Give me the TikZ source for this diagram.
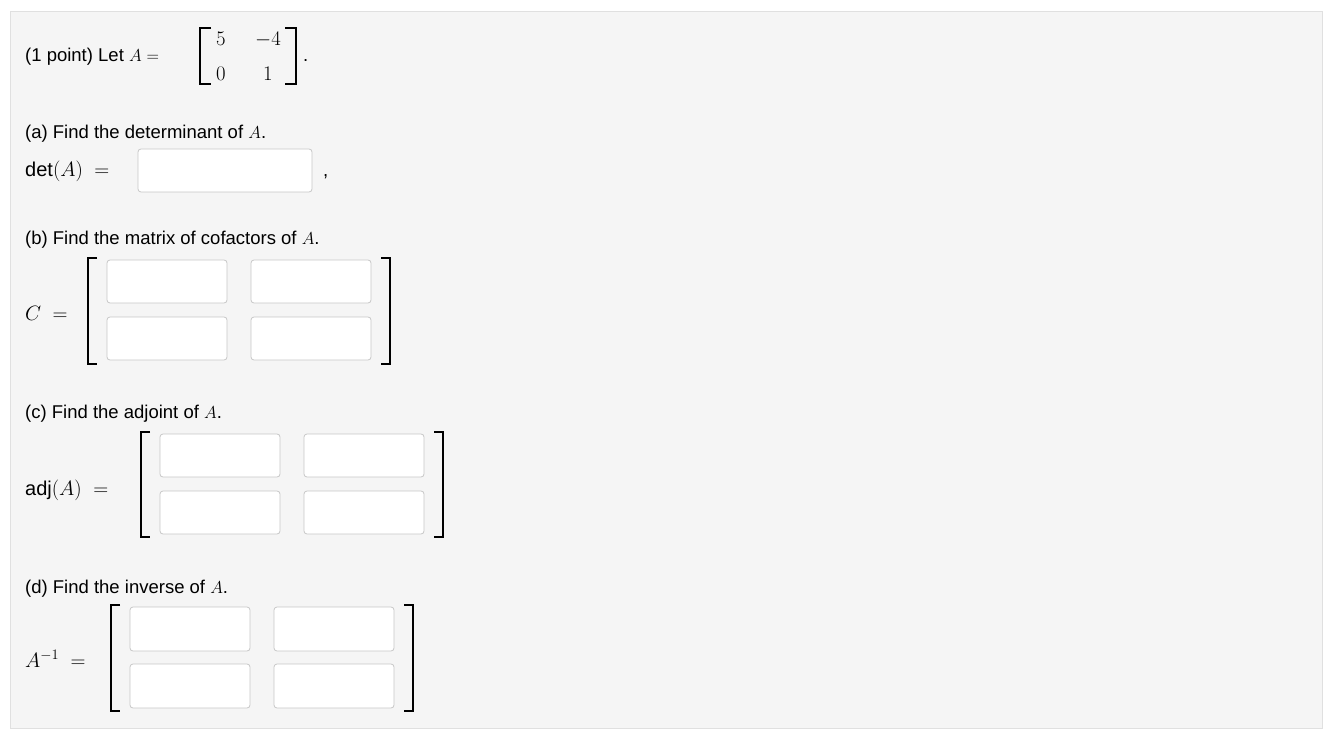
\documentclass[tikz,border=0pt]{standalone}
\usepackage{fontspec}
\setmainfont{Liberation Sans}
\begin{document}
\begin{tikzpicture}[x=1pt,y=-1pt,
  inbox/.style={draw=black!22,fill=white,rounded corners=3pt,line width=0.8pt},
  brk/.style={line width=1.3pt},
  txt/.style={anchor=base west,inner sep=0pt,font=\fontsize{18.5}{20}\selectfont},
  mtx/.style={anchor=base,inner sep=0pt,font=\fontsize{20}{22}\selectfont}]
\useasboundingbox (0,0) rectangle (1323,730);
\fill[white] (0,0) rectangle (1323,730);
\draw[fill=black!4,draw=black!12] (10,11) rectangle (1322,728);
% header
\node[txt] (h) at (25,62) {(1 point) Let $A=$};
\draw[brk] (211,28)--(200,28)--(200,84)--(211,84);
\draw[brk] (285,28)--(296,28)--(296,84)--(285,84);
\node[mtx] (a11) at (221,46) {$5$};
\node[mtx] (a12) at (268,46) {$-4$};
\node[mtx] (a21) at (221,81) {$0$};
\node[mtx] (a22) at (268,81) {$1$};
\node[txt] (hp) at (303,62) {.};
% (a)
\node[txt] (ta) at (25,139) {(a) Find the determinant of $A$.};
\node[mtx,anchor=base west] (da) at (25,177) {$\det(A)\;=$};
\draw[inbox] (138,149) rectangle (312,192);
\node[txt] (comma) at (323,177) {,};
% (b)
\node[txt] (tb) at (25,245) {(b) Find the matrix of cofactors of $A$.};
\node[mtx,anchor=base west] (cb) at (25,320) {$C\;=$};
\draw[brk] (97,258)--(88,258)--(88,364)--(97,364);
\draw[brk] (381,258)--(390,258)--(390,364)--(381,364);
\draw[inbox] (107,260) rectangle (227,303);
\draw[inbox] (251,260) rectangle (371,303);
\draw[inbox] (107,317) rectangle (227,360);
\draw[inbox] (251,317) rectangle (371,360);
% (c)
\node[txt] (tc) at (25,418) {(c) Find the adjoint of $A$.};
\node[mtx,anchor=base west] (cc) at (25,495) {$\mathrm{adj}(A)\;=$};
\draw[brk] (150,432)--(141,432)--(141,537)--(150,537);
\draw[brk] (434,432)--(443,432)--(443,537)--(434,537);
\draw[inbox] (160,434) rectangle (280,477);
\draw[inbox] (304,434) rectangle (424,477);
\draw[inbox] (160,491) rectangle (280,534);
\draw[inbox] (304,491) rectangle (424,534);
% (d)
\node[txt] (td) at (25,593) {(d) Find the inverse of $A$.};
\node[mtx,anchor=base west] (cd) at (25,667) {$A^{-1}\;=$};
\draw[brk] (120,605)--(111,605)--(111,711)--(120,711);
\draw[brk] (404,605)--(413,605)--(413,711)--(404,711);
\draw[inbox] (130,607) rectangle (250,651);
\draw[inbox] (274,607) rectangle (394,651);
\draw[inbox] (130,664) rectangle (250,708);
\draw[inbox] (274,664) rectangle (394,708);
\end{tikzpicture}
\end{document}
